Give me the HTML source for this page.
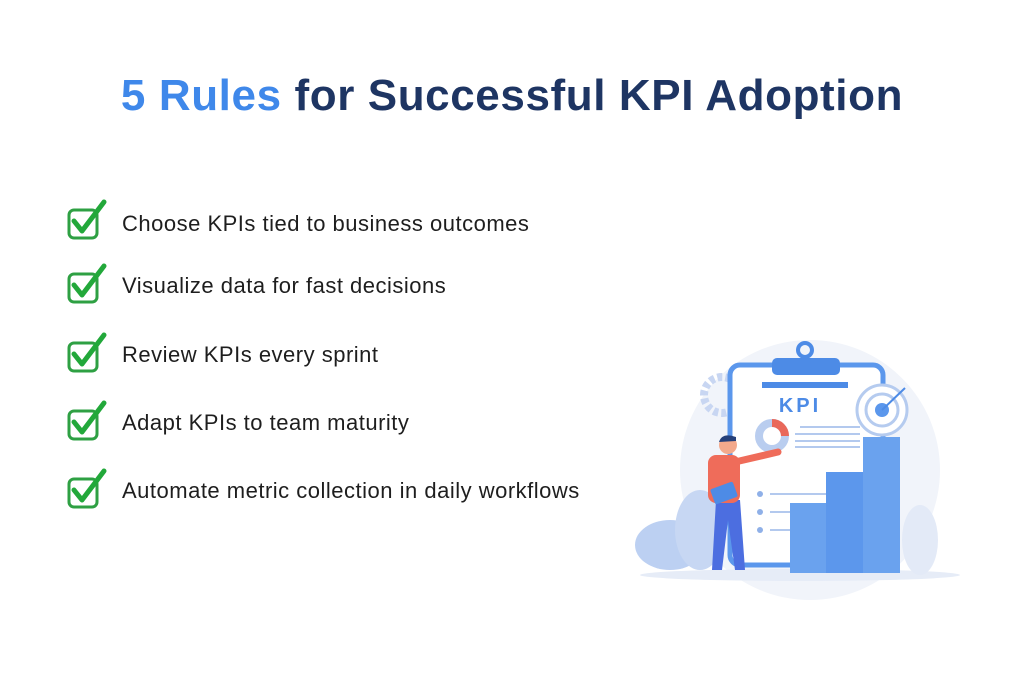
<!DOCTYPE html>
<html><head><meta charset="utf-8"><style>
body{margin:0;width:1024px;height:682px;background:#fff;position:relative;overflow:hidden;font-family:"Liberation Sans",sans-serif}
h1{position:absolute;top:71px;left:0;width:1024px;text-align:center;margin:0;font-size:44px;font-weight:bold;color:#1e3563;letter-spacing:0.6px}
h1 span{color:#3f88ea}
.it{position:absolute;left:122px;font-size:22px;color:#1e1e1e;line-height:24px;letter-spacing:0.5px}
.ck{position:absolute;left:66px}
</style></head><body>
<h1><span>5 Rules</span> for Successful KPI Adoption</h1>
<svg width="0" height="0" style="position:absolute"><defs><g id="c"><rect x="3" y="11" width="28" height="28" rx="5" fill="none" stroke="#2ea043" stroke-width="3"/><path d="M8 22 L16 32 L38 3" fill="none" stroke="#22a83a" stroke-width="5" stroke-linecap="round" stroke-linejoin="round"/></g></defs></svg>
<svg class="ck" style="top:199px" width="42" height="42"><use href="#c"/></svg><div class="it" style="top:212px">Choose KPIs tied to business outcomes</div>
<svg class="ck" style="top:263px" width="42" height="42"><use href="#c"/></svg><div class="it" style="top:274px">Visualize data for fast decisions</div>
<svg class="ck" style="top:332px" width="42" height="42"><use href="#c"/></svg><div class="it" style="top:343px">Review KPIs every sprint</div>
<svg class="ck" style="top:400px" width="42" height="42"><use href="#c"/></svg><div class="it" style="top:411px">Adapt KPIs to team maturity</div>
<svg class="ck" style="top:468px" width="42" height="42"><use href="#c"/></svg><div class="it" style="top:479px">Automate metric collection in daily workflows</div>
<svg style="position:absolute;left:0;top:0" width="1024" height="682">
<circle cx="810" cy="470" r="130" fill="#f1f4fa"/>
<ellipse cx="800" cy="575" rx="160" ry="6" fill="#e6ecf7"/>
<circle cx="722" cy="395" r="18" fill="none" stroke="#c8d6f2" stroke-width="8" stroke-dasharray="5 3"/>
<ellipse cx="670" cy="545" rx="35" ry="25" fill="#bcd0f2"/>
<ellipse cx="700" cy="530" rx="25" ry="40" fill="#c7d7f3"/>
<ellipse cx="920" cy="540" rx="18" ry="35" fill="#e3eaf7"/>
<rect x="730" y="365" width="153" height="200" rx="10" fill="#fff" stroke="#5b97ec" stroke-width="5"/>
<rect x="772" y="358" width="68" height="17" rx="5" fill="#4d8be6"/>
<circle cx="805" cy="350" r="7" fill="none" stroke="#4d8be6" stroke-width="4"/>
<rect x="762" y="382" width="86" height="6" fill="#4d8be6"/>
<text x="800" y="412" font-family="Liberation Sans" font-size="20" font-weight="bold" fill="#4d8be6" text-anchor="middle" letter-spacing="3">KPI</text>
<circle cx="772" cy="436" r="13" fill="none" stroke="#b9cdef" stroke-width="8"/>
<path d="M772 423 A13 13 0 0 1 785 436" fill="none" stroke="#e9685a" stroke-width="8"/>
<g stroke="#9ab7e8" stroke-width="1.5"><line x1="800" y1="427" x2="860" y2="427"/><line x1="795" y1="434" x2="860" y2="434"/><line x1="795" y1="441" x2="860" y2="441"/><line x1="795" y1="447" x2="860" y2="447"/><line x1="770" y1="494" x2="830" y2="494"/><line x1="770" y1="512" x2="830" y2="512"/><line x1="770" y1="530" x2="830" y2="530"/></g>
<g fill="#8fb0e8"><circle cx="760" cy="494" r="3"/><circle cx="760" cy="512" r="3"/><circle cx="760" cy="530" r="3"/></g>
<circle cx="882" cy="410" r="25" fill="#fff" stroke="#b5cbef" stroke-width="3"/><circle cx="882" cy="410" r="16" fill="none" stroke="#b5cbef" stroke-width="3"/><circle cx="882" cy="410" r="7" fill="#5b97ec"/>
<line x1="882" y1="410" x2="905" y2="388" stroke="#4d8be6" stroke-width="2"/>
<rect x="790" y="503" width="36" height="70" fill="#6aa2ee"/><rect x="826" y="472" width="37" height="101" fill="#5c97ec"/><rect x="863" y="437" width="37" height="136" fill="#6aa2ee"/>
<path d="M716 500 L712 570 L722 570 L728 520 L735 570 L745 570 L740 500 Z" fill="#4c6ee0"/>
<rect x="708" y="455" width="32" height="48" rx="8" fill="#ef6c5a"/>
<path d="M735 462 L778 452" stroke="#ef6c5a" stroke-width="7" stroke-linecap="round"/>
<circle cx="728" cy="445" r="9" fill="#f3a98c"/><path d="M719 442 Q722 432 736 437 L736 441 Z" fill="#25407a"/>
<rect x="712" y="485" width="24" height="16" rx="2" fill="#4d8be6" transform="rotate(-20 724 493)"/>
</svg>
</body></html>
